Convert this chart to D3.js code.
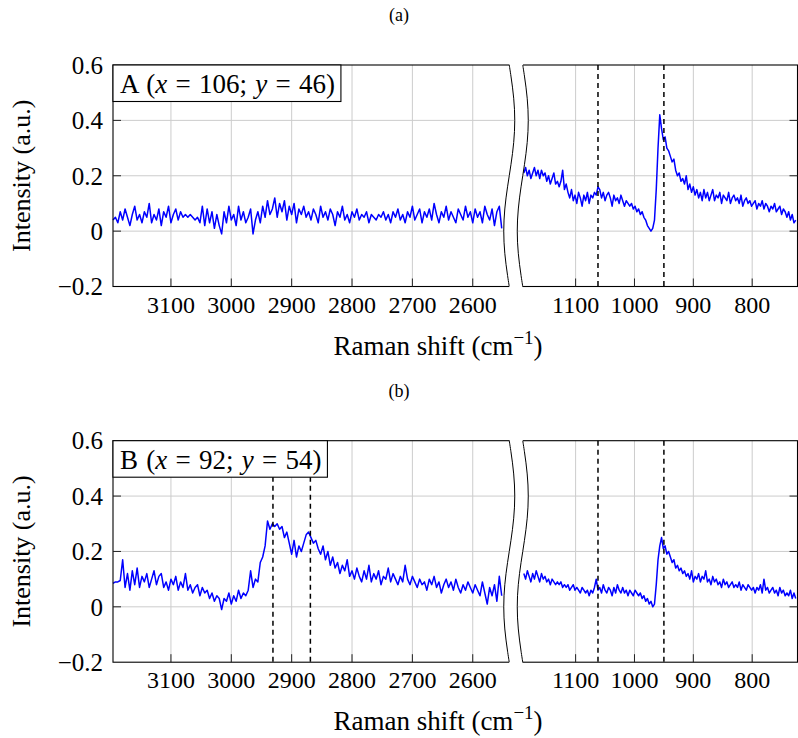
<!DOCTYPE html>
<html>
<head>
<meta charset="utf-8">
<script src="https://cdn.jsdelivr.net/npm/d3@7"></script>
<style>
  body { margin: 0; background: #fff; }
</style>
</head>
<body>
<div id="chart"></div>
<script>
// Raman spectra at two spots, broken x axis (high / low wavenumber windows)

// wavenumber grids (cm^-1)
const highShift = d3.range(3196, 2551, -4);   // 162 points
const lowShift = d3.range(1188, 724, -3);     // 155 points

// tick values
const highTicks = [3100, 3000, 2900, 2800, 2700, 2600];
const lowTicks = [1100, 1000, 900, 800];
const yTicks = [-0.2, 0, 0.2, 0.4, 0.6];
const yTickLabels = ['\u22120.2', '0', '0.2', '0.4', '0.6'];

// spot A, high window (3196 -> 2552)
const aHigh = [
  0.04, 0.05, 0.03, 0.07, 0.04, 0.08, 0.05, 0.02, 0.06, 0.09,
  0.04, 0.06, 0.03, 0.07, 0.05, 0.10, 0.03, 0.06, 0.04, 0.08,
  0.02, 0.07, 0.05, 0.09, 0.03, 0.06, 0.08, 0.04, 0.07, 0.05,
  0.06, 0.05, 0.06, 0.05, 0.04, 0.05, 0.03, 0.09, 0.02, 0.08,
  0.03, 0.07, 0.01, 0.06, 0.02, -0.01, 0.07, 0.03, 0.09, 0.04,
  0.06, 0.02, 0.09, 0.04, 0.07, 0.03, 0.05, 0.08, -0.01, 0.04,
  0.07, 0.03, 0.09, 0.05, 0.11, 0.06, 0.08, 0.12, 0.05, 0.10,
  0.07, 0.11, 0.04, 0.09, 0.06, 0.10, 0.03, 0.08, 0.06, 0.09,
  0.05, 0.07, 0.04, 0.08, 0.06, 0.03, 0.09, 0.05, 0.07, 0.04,
  0.08, 0.06, 0.02, 0.07, 0.05, 0.09, 0.04, 0.06, 0.03, 0.07,
  0.05, 0.08, 0.04, 0.06, 0.05, 0.07, 0.03, 0.06, 0.05, 0.04,
  0.06, 0.05, 0.07, 0.04, 0.06, 0.03, 0.07, 0.05, 0.08, 0.04,
  0.06, 0.03, 0.07, 0.05, 0.09, 0.04, 0.06, 0.08, 0.03, 0.07,
  0.05, 0.08, 0.04, 0.10, 0.06, 0.03, 0.07, 0.05, 0.09, 0.04,
  0.07, 0.05, 0.03, 0.08, 0.06, 0.04, 0.09, 0.05, 0.07, 0.03,
  0.08, 0.05, 0.07, 0.03, 0.09, 0.06, 0.04, 0.08, 0.02, 0.07,
  0.09, 0.01
];

// spot A, low window (1188 -> 726)
const aLow = [
  0.21, 0.23, 0.20, 0.22, 0.19, 0.21, 0.23, 0.20, 0.22, 0.19,
  0.22, 0.20, 0.21, 0.18, 0.20, 0.17, 0.19, 0.21, 0.17, 0.18,
  0.16, 0.18, 0.22, 0.15, 0.17, 0.14, 0.12, 0.15, 0.11, 0.13,
  0.10, 0.14, 0.12, 0.09, 0.13, 0.11, 0.14, 0.10, 0.13, 0.12,
  0.14, 0.13, 0.16, 0.15, 0.12, 0.14, 0.11, 0.13, 0.14, 0.12,
  0.09, 0.13, 0.11, 0.12, 0.10, 0.13, 0.11, 0.09, 0.11, 0.10,
  0.09, 0.10, 0.08, 0.09, 0.07, 0.08, 0.06, 0.07, 0.05, 0.04,
  0.02, 0.01, 0.00, 0.01, 0.04, 0.15, 0.30, 0.42, 0.37, 0.33,
  0.34, 0.30, 0.29, 0.27, 0.25, 0.26, 0.22, 0.20, 0.21, 0.18,
  0.19, 0.17, 0.20, 0.15, 0.17, 0.14, 0.16, 0.13, 0.15, 0.12,
  0.14, 0.11, 0.15, 0.12, 0.14, 0.11, 0.13, 0.15, 0.11, 0.13,
  0.12, 0.14, 0.10, 0.13, 0.12, 0.11, 0.14, 0.10, 0.12, 0.13,
  0.11, 0.12, 0.10, 0.13, 0.09, 0.11, 0.12, 0.10, 0.11, 0.09,
  0.10, 0.11, 0.08, 0.10, 0.09, 0.11, 0.08, 0.10, 0.09, 0.07,
  0.09, 0.08, 0.10, 0.07, 0.08, 0.09, 0.06, 0.08, 0.07, 0.05,
  0.07, 0.04, 0.06, 0.03, 0.04
];

// spot B, high window (3196 -> 2552)
const bHigh = [
  0.085, 0.09, 0.09, 0.095, 0.17, 0.07, 0.12, 0.06, 0.13, 0.08,
  0.14, 0.07, 0.11, 0.09, 0.12, 0.07, 0.10, 0.13, 0.08, 0.11,
  0.12, 0.07, 0.09, 0.06, 0.10, 0.08, 0.11, 0.06, 0.09, 0.07,
  0.12, 0.06, 0.08, 0.05, 0.07, 0.08, 0.04, 0.07, 0.05, 0.06,
  0.03, 0.05, 0.02, 0.04, 0.03, -0.01, 0.03, 0.02, 0.05, 0.01,
  0.04, 0.02, 0.06, 0.03, 0.05, 0.04, 0.06, 0.13, 0.07, 0.10,
  0.09, 0.16, 0.18, 0.22, 0.31, 0.28, 0.30, 0.29, 0.30, 0.28,
  0.29, 0.25, 0.27, 0.23, 0.19, 0.24, 0.18, 0.22, 0.20, 0.23,
  0.26, 0.27, 0.25, 0.23, 0.24, 0.21, 0.19, 0.22, 0.17, 0.20,
  0.15, 0.18, 0.14, 0.16, 0.12, 0.15, 0.13, 0.17, 0.11, 0.13,
  0.10, 0.14, 0.11, 0.09, 0.13, 0.10, 0.15, 0.09, 0.12, 0.10,
  0.13, 0.08, 0.11, 0.10, 0.14, 0.09, 0.12, 0.10, 0.08, 0.11,
  0.09, 0.15, 0.10, 0.08, 0.11, 0.09, 0.07, 0.10, 0.08, 0.09,
  0.06, 0.10, 0.08, 0.11, 0.07, 0.09, 0.05, 0.08, 0.10, 0.07,
  0.09, 0.06, 0.10, 0.07, 0.05, 0.08, 0.06, 0.09, 0.07, 0.05,
  0.08, 0.06, 0.04, 0.09, 0.05, 0.01, 0.07, 0.04, 0.08, 0.02,
  0.11, 0.04
];

// spot B, low window (1188 -> 726)
const bLow = [
  0.12, 0.10, 0.13, 0.11, 0.09, 0.12, 0.10, 0.13, 0.11, 0.09,
  0.12, 0.10, 0.11, 0.09, 0.10, 0.08, 0.10, 0.09, 0.08, 0.09,
  0.08, 0.09, 0.07, 0.08, 0.07, 0.08, 0.06, 0.07, 0.08, 0.06,
  0.07, 0.06, 0.05, 0.07, 0.06, 0.05, 0.06, 0.04, 0.06, 0.05,
  0.07, 0.10, 0.06, 0.07, 0.05, 0.08, 0.06, 0.05, 0.07, 0.06,
  0.04, 0.07, 0.05, 0.08, 0.06, 0.05, 0.07, 0.05, 0.06, 0.04,
  0.06, 0.05, 0.04, 0.06, 0.05, 0.04, 0.05, 0.03, 0.04, 0.02,
  0.03, 0.01, 0.02, 0.00, 0.01, 0.08, 0.17, 0.22, 0.25, 0.21,
  0.22, 0.19, 0.20, 0.18, 0.16, 0.17, 0.14, 0.15, 0.13, 0.14,
  0.12, 0.13, 0.11, 0.12, 0.10, 0.13, 0.09, 0.11, 0.10, 0.12,
  0.09, 0.11, 0.10, 0.13, 0.09, 0.10, 0.08, 0.11, 0.09, 0.10,
  0.08, 0.09, 0.07, 0.10, 0.08, 0.09, 0.07, 0.08, 0.09, 0.07,
  0.08, 0.07, 0.09, 0.06, 0.08, 0.07, 0.06, 0.08, 0.07, 0.06,
  0.07, 0.05, 0.07, 0.06, 0.08, 0.05, 0.10, 0.06, 0.07, 0.05,
  0.06, 0.07, 0.05, 0.06, 0.04, 0.07, 0.05, 0.06, 0.04, 0.05,
  0.04, 0.06, 0.03, 0.05, 0.03
];

// reference band positions (dashed lines)
const bandsA = [1062, 950];
const bandsB = [2931, 2869, 1062, 950];

const panels = [
  {title: '(a)', spot: 'A', px: 106, py: 46, high: aHigh, low: aLow, bands: bandsA},
  {title: '(b)', spot: 'B', px: 92, py: 54, high: bHigh, low: bLow, bands: bandsB}
];

const width = 798, height = 738;
const left = 113, W = 684.5, H = 221.5;
const panelTop = [65, 440.7];
const breakX = 403, breakGap = 6.75, breakAmp = 5.5;
const gridColor = '#cccccc';
const font = '"Liberation Serif"';

const xHigh = d3.scaleLinear().domain([3196, 2530]).range([0, 402]);
const xLow = d3.scaleLinear().domain([1203, 723]).range([402, W]);
const xAny = w => w > 2000 ? xHigh(w) : xLow(w);
const y = d3.scaleLinear().domain([-0.2, 0.6]).range([H, 0]);

const svg = d3.select('#chart')
  .append('svg')
  .attr('width', width)
  .attr('height', height);

panels.forEach((p, i) => {
  const top = panelTop[i];

  // panel title
  svg.append('text')
    .attr('x', 399)
    .attr('y', top - 44)
    .attr('text-anchor', 'middle')
    .style('font-family', font)
    .style('font-size', '18px')
    .text(p.title);

  const g = svg.append('g')
    .attr('transform', `translate(${left},${top})`);

  // grid
  const vGrid = highTicks.map(t => xHigh(t)).concat(lowTicks.map(t => xLow(t)));
  g.selectAll('line.vgrid')
    .data(vGrid)
    .enter()
    .append('line')
    .attr('class', 'vgrid')
    .attr('x1', d => d).attr('x2', d => d)
    .attr('y1', 0).attr('y2', H)
    .attr('stroke', gridColor)
    .attr('stroke-width', 1);

  g.selectAll('line.hgrid')
    .data(yTicks.slice(1, -1))
    .enter()
    .append('line')
    .attr('class', 'hgrid')
    .attr('x1', 0).attr('x2', W)
    .attr('y1', d => y(d)).attr('y2', d => y(d))
    .attr('stroke', gridColor)
    .attr('stroke-width', 1);

  // spectra
  const line = d3.line()
    .x(d => xAny(d[0]))
    .y(d => y(d[1]));

  [[highShift, p.high], [lowShift, p.low]].forEach(([xs, ys]) => {
    g.append('path')
      .datum(xs.map((w, k) => [w, ys[k]]))
      .attr('d', line)
      .attr('fill', 'none')
      .attr('stroke', '#0000ff')
      .attr('stroke-width', 1.5)
      .attr('stroke-linejoin', 'round');
  });

  // dashed band markers
  g.selectAll('line.band')
    .data(p.bands)
    .enter()
    .append('line')
    .attr('class', 'band')
    .attr('x1', d => xAny(d)).attr('x2', d => xAny(d))
    .attr('y1', 0).attr('y2', H)
    .attr('stroke', '#000')
    .attr('stroke-width', 1.5)
    .attr('stroke-dasharray', '5,4');

  // frame
  g.append('rect')
    .attr('width', W)
    .attr('height', H)
    .attr('fill', 'none')
    .attr('stroke', '#000')
    .attr('stroke-width', 1.1);

  // ticks (inside)
  g.selectAll('line.xtick')
    .data(vGrid)
    .enter()
    .append('line')
    .attr('x1', d => d).attr('x2', d => d)
    .attr('y1', H).attr('y2', H - 8)
    .attr('stroke', '#222');

  yTicks.slice(1, -1).forEach(t => {
    g.append('line')
      .attr('x1', 0).attr('x2', 8)
      .attr('y1', y(t)).attr('y2', y(t))
      .attr('stroke', '#222');
    g.append('line')
      .attr('x1', W - 8).attr('x2', W)
      .attr('y1', y(t)).attr('y2', y(t))
      .attr('stroke', '#222');
  });

  // tick labels
  g.selectAll('text.xlab')
    .data(highTicks.map(t => [xHigh(t), t]).concat(lowTicks.map(t => [xLow(t), t])))
    .enter()
    .append('text')
    .attr('x', d => d[0])
    .attr('y', H + 26)
    .attr('text-anchor', 'middle')
    .style('font-family', font)
    .style('font-size', '24px')
    .text(d => d[1]);

  g.selectAll('text.ylab')
    .data(yTicks)
    .enter()
    .append('text')
    .attr('x', -10)
    .attr('y', d => y(d))
    .attr('dy', '0.35em')
    .attr('text-anchor', 'end')
    .style('font-family', font)
    .style('font-size', '25px')
    .text((d, k) => yTickLabels[k]);

  // axis break
  const ts = d3.range(0, 1.0001, 0.05);
  const waveL = ts.map(t => [breakX - breakGap + breakAmp * Math.sin(2 * Math.PI * t), t * H]);
  const waveR = ts.map(t => [breakX + breakGap + breakAmp * Math.sin(2 * Math.PI * t), t * H]);
  const wave = d3.line().curve(d3.curveCatmullRom);

  const bandL = waveL.map(d => [d[0], d[1]]);
  bandL[0][1] = -2; bandL[bandL.length - 1][1] = H + 2;
  const bandR = waveR.map(d => [d[0], d[1]]).reverse();
  bandR[0][1] = H + 2; bandR[bandR.length - 1][1] = -2;
  g.append('path')
    .attr('d', 'M' + bandL.concat(bandR).map(d => d.join(',')).join('L') + 'Z')
    .attr('fill', '#fff');

  [waveL, waveR].forEach(pts => {
    g.append('path')
      .attr('d', wave(pts))
      .attr('fill', 'none')
      .attr('stroke', '#000')
      .attr('stroke-width', 1);
  });

  // spot label box
  const boxG = g.append('g');
  const box = boxG.append('rect')
    .attr('x', 0).attr('y', 0)
    .attr('height', 36.5)
    .attr('fill', '#fff')
    .attr('stroke', '#000')
    .attr('stroke-width', 1.1);
  const label = boxG.append('text')
    .attr('x', 7)
    .attr('y', 28)
    .style('font-family', font)
    .style('font-size', '27px')
    .style('word-spacing', '1.5px');
  label.append('tspan').text(p.spot + ' (');
  label.append('tspan').style('font-style', 'italic').text('x');
  label.append('tspan').text(' = ' + p.px + '; ');
  label.append('tspan').style('font-style', 'italic').text('y');
  label.append('tspan').text(' = ' + p.py + ')');
  box.attr('width', label.node().getBBox().width + 13);

  // axis titles
  const xt = g.append('text')
    .attr('x', 325)
    .attr('y', H + 68)
    .attr('text-anchor', 'middle')
    .style('font-family', font)
    .style('font-size', '27px');
  xt.append('tspan').text('Raman shift (cm');
  xt.append('tspan').attr('dy', -11).style('font-size', '19px').text('\u22121');
  xt.append('tspan').attr('dy', 11).text(')');

  g.append('text')
    .attr('transform', `translate(${30 - left},${H / 2}) rotate(-90)`)
    .attr('text-anchor', 'middle')
    .style('font-family', font)
    .style('font-size', '26px')
    .text('Intensity (a.u.)');
});
</script>
</body>
</html>
